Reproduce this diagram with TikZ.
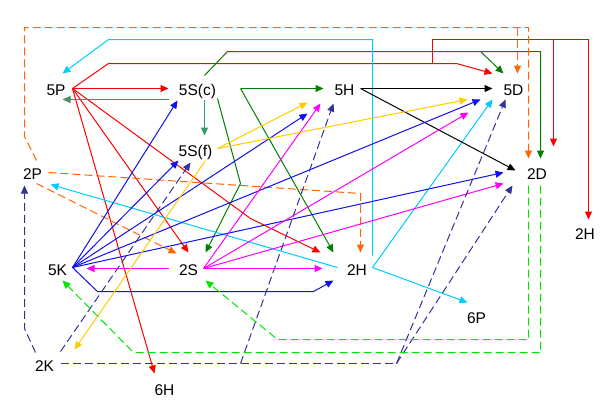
\documentclass[tikz,border=0pt]{standalone}
\usepackage{fontspec}
\setmainfont{Liberation Sans}
\usetikzlibrary{arrows.meta,calc}
\definecolor{cRed}{RGB}{255,0,0}
\definecolor{cCyan}{RGB}{0,204,255}
\definecolor{cOrange}{RGB}{255,102,0}
\definecolor{cSea}{RGB}{51,153,102}
\definecolor{cGreen}{RGB}{0,128,0}
\definecolor{cBlue}{RGB}{17,17,238}
\definecolor{cMag}{RGB}{255,0,255}
\definecolor{cYel}{RGB}{255,204,0}
\definecolor{cNavy}{RGB}{51,51,153}
\definecolor{cLime}{RGB}{0,230,0}
\begin{document}
\begin{tikzpicture}[x=1pt,y=-1pt,
  lbl/.style={inner sep=0pt,text height=11.1pt,text depth=0pt,font=\fontsize{15.5}{17}\selectfont},
  conn/.style={line width=1pt},
  arr/.style={conn,-{Triangle[length=8pt,width=7pt]}},
  dsh/.style={dash pattern=on 8pt off 4pt}]
\fill[white] (-0.5,-0.5) rectangle (612.5,412.5);
\useasboundingbox (-0.5,-0.5) rectangle (612.5,412.5);
% nodes
\node[lbl] (P5) at (55.5,89.5) {5P};
\node[lbl] (Sc) at (197,89.5) {5S(c)};
\node[lbl] (H5) at (344,89.5) {5H};
\node[lbl] (D5) at (513,89.5) {5D};
\node[lbl] (Sf) at (195,150) {5S(f)};
\node[lbl] (P2) at (32,173) {2P};
\node[lbl] (D2) at (536.5,173) {2D};
\node[lbl] (Hr) at (584.5,233) {2H};
\node[lbl] (K5) at (57,269) {5K};
\node[lbl] (S2) at (188,269) {2S};
\node[lbl] (H2) at (356.5,269) {2H};
\node[lbl] (P6) at (476,317) {6P};
\node[lbl] (K2) at (44,365) {2K};
\node[lbl] (H6) at (164,389.5) {6H};
% branch points
\coordinate (rJ) at (432,63);
\coordinate (rK) at (553,39);
\coordinate (oJ) at (517,27);
\coordinate (gJ) at (480,51);
\coordinate (gS) at (240,88);
\coordinate (cS) at (372,267);
\coordinate (kJ) at (240,363);
\coordinate (kK) at (396,363);
\coordinate (kS) at ($(K2)+(16,-2)$);
\coordinate (bS) at ($(K5)+(15,-2)$);
\coordinate (mS) at ($(S2)+(15,-1)$);
\coordinate (pS) at ($(P5)+(16.5,-1.5)$);
\coordinate (yS) at ($(Sf)+(22,-2)$);
% red
\draw[arr,cRed] (pS) -- ($(Sc)+(-29,-1.5)$);
\draw[arr,cRed] (pS) -- (108,63) -- (456,63) -- ($(D5)+(-21,-16.5)$);
\draw[arr,cRed] (rJ) -- (432,39) -- (588,39) -- ($(Hr)+(3.5,-14)$);
\draw[arr,cRed] (rK) -- ($(D2)+(16.5,-27)$);
\draw[arr,cRed] (pS) -- ($(S2)+(0,-17)$);
\draw[arr,cRed] (pS) -- ($(H6)+(-10,-16.5)$);
\draw[arr,cRed] (pS) -- (250,218) -- ($(H2)+(-36.5,-17)$);
% sea green
\draw[arr,cSea] ($(Sc)+(-29,9.5)$) -- ($(P5)+(6.5,9.5)$);
\draw[arr,cSea] ($(Sc)+(7,9.5)$) -- ($(Sf)+(9,-15)$);
% green
\draw[arr,cGreen] ($(Sc)+(20,8.5)$) -- (240,183) -- ($(S2)+(17,-17)$);
\draw[arr,cGreen] ($(Sc)+(7,-14.5)$) -- (227,51) -- (540,51) -- ($(D2)+(3.5,-15)$);
\draw[arr,cGreen] (gJ) -- ($(D5)+(-10,-16.5)$);
\draw[arr,cGreen] (gS) -- ($(H5)+(-21,-1.5)$);
\draw[arr,cGreen] (gS) -- ($(H2)+(-23.5,-17)$);
% cyan
\draw[arr,cCyan] ($(H2)+(15.5,-14)$) -- (372,39) -- (108,39) -- ($(P5)+(6.5,-16.5)$);
\draw[arr,cCyan] (cS) -- ($(P6)+(-9,-15)$);
\draw[arr,cCyan] (cS) -- ($(D5)+(-21,9.5)$);
\draw[arr,cCyan] ($(H2)+(-19.5,-2)$) -- ($(P2)+(18,11)$);
% orange dashed
\draw[arr,cOrange,dsh] ($(P2)+(4,-13)$) -- (24,136) -- (24,27) -- (528,27) -- ($(D2)+(-8.5,-15)$);
\draw[arr,cOrange,dsh] (oJ) -- ($(D5)+(4,-16.5)$);
\draw[arr,cOrange,dsh] ($(P2)+(16,-1)$) -- (360,193) -- ($(H2)+(3.5,-17)$);
\draw[arr,cOrange,dsh] ($(P2)+(4,10)$) -- ($(S2)+(-12,-16)$);
% black
\draw[arr,black] ($(H5)+(16,-1.5)$) -- ($(D5)+(-21,-1.5)$);
\draw[arr,black] ($(H5)+(16,-1.5)$) -- ($(D2)+(-21.5,-3)$);
% blue
\draw[arr,cBlue] (bS) -- ($(Sc)+(-20,10.5)$);
\draw[arr,cBlue] (bS) -- ($(Sf)+(-17,10)$);
\draw[arr,cBlue] (bS) -- ($(H5)+(-37,23.5)$);
\draw[arr,cBlue] (bS) -- ($(D5)+(-33,9.5)$);
\draw[arr,cBlue] (bS) -- ($(D2)+(-33.5,-1)$);
\draw[arr,cBlue] (bS) -- (97,291) -- (313,291) -- ($(H2)+(-23.5,11)$);
% magenta
\draw[arr,cMag] (mS) -- ($(H5)+(-24,13.5)$);
\draw[arr,cMag] (mS) -- ($(D5)+(-45,22.5)$);
\draw[arr,cMag] (mS) -- ($(D2)+(-33.5,10)$);
\draw[arr,cMag] (mS) -- ($(H2)+(-34.5,-1)$);
\draw[arr,cMag] ($(S2)+(-20,-1)$) -- ($(K5)+(29,-1)$);
% yellow
\draw[arr,cYel] (yS) -- ($(H5)+(-37,12.5)$);
\draw[arr,cYel] (yS) -- ($(D5)+(-46,9.5)$);
\draw[arr,cYel] ($(Sf)+(10,10)$) -- ($(K2)+(30,-16)$);
% navy dashed
\draw[arr,cNavy,dsh] ($(K2)+(-9,-13)$) -- (24,328) -- ($(P2)+(-8,12)$);
\draw[arr,cNavy,dsh] ($(K2)+(16,-14)$) -- ($(Sf)+(-5,12)$);
\draw[conn,cNavy,dsh] (kS) -- (kK);
\draw[arr,cNavy,dsh] (kJ) -- ($(H5)+(-11,13.5)$);
\draw[arr,cNavy,dsh] (kK) -- ($(D5)+(-8,9.5)$);
\draw[arr,cNavy,dsh] (kK) -- ($(D2)+(-24.5,12)$);
% lime dashed
\draw[arr,cLime,dsh] ($(D2)+(-8.5,12)$) -- (528,339) -- (277,339) -- ($(S2)+(17,11)$);
\draw[arr,cLime,dsh] ($(D2)+(3.5,12)$) -- (540,352) -- (133,352) -- ($(K5)+(5,11)$);
\end{tikzpicture}
\end{document}
